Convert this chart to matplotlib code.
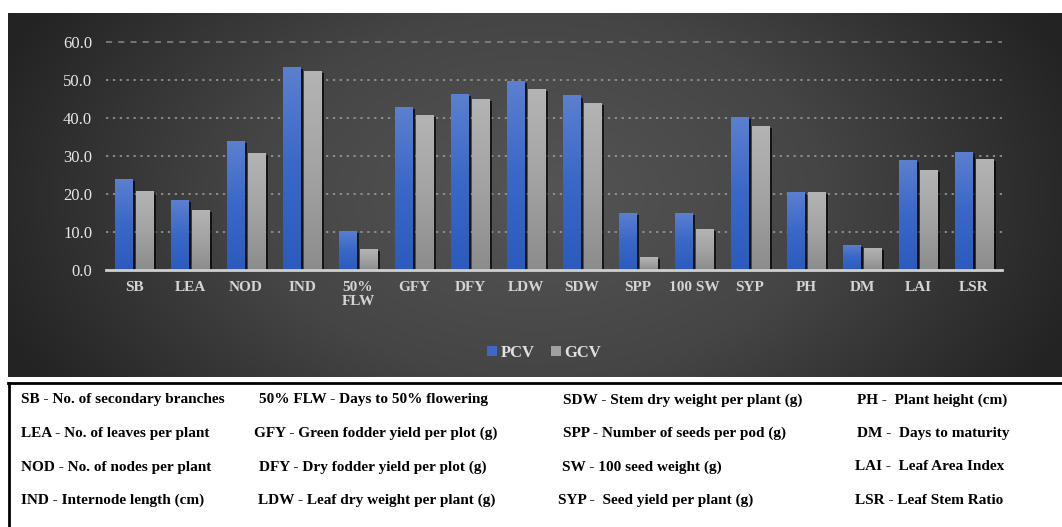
import numpy as np
import matplotlib
matplotlib.use("Agg")
import matplotlib.pyplot as plt
from matplotlib import patheffects as pe
from matplotlib.colors import LinearSegmentedColormap

categories = ["SB", "LEA", "NOD", "IND", "50%\nFLW", "GFY", "DFY", "LDW", "SDW",
              "SPP", "100 SW", "SYP", "PH", "DM", "LAI", "LSR"]
pcv = [24.1, 18.4, 33.9, 53.4, 10.3, 42.9, 46.3, 49.7, 46.0, 15.0, 15.0, 40.3, 20.5, 6.6, 28.9, 31.1]
gcv = [20.8, 15.8, 30.8, 52.4, 5.5, 40.8, 45.0, 47.6, 43.9, 3.4, 10.8, 37.9, 20.5, 5.8, 26.3, 29.2]
yticks = [0, 10, 20, 30, 40, 50, 60]

abbrev_rows = [
    ["SB - No. of secondary branches", "50% FLW - Days to 50% flowering",
     "SDW - Stem dry weight per plant (g)", "PH -  Plant height (cm)"],
    ["LEA - No. of leaves per plant", "GFY - Green fodder yield per plot (g)",
     "SPP - Number of seeds per pod (g)", "DM -  Days to maturity"],
    ["NOD - No. of nodes per plant", "DFY - Dry fodder yield per plot (g)",
     "SW - 100 seed weight (g)", "LAI -  Leaf Area Index"],
    ["IND - Internode length (cm)", "LDW - Leaf dry weight per plant (g)",
     "SYP -  Seed yield per plant (g)", "LSR - Leaf Stem Ratio"],
]
col_x = [[21, 259, 563, 857], [21, 254, 563, 857], [21, 259, 562, 855], [21, 258, 558, 855]]
row_y = [400, 433, 467, 500]

W, H = 1062, 527
fig = plt.figure(figsize=(W / 100, H / 100), dpi=100)
fig.patch.set_facecolor("white")
serif = ["Liberation Serif", "DejaVu Serif"]

# dark background panel with radial gradient
px0, py0, px1, py1 = 8, 13, 1062, 377
bg = fig.add_axes([px0 / W, 1 - py1 / H, (px1 - px0) / W, (py1 - py0) / H])
bg.set_axis_off()
xx, yy = np.meshgrid(np.linspace(-1, 1, 400), np.linspace(-1, 1, 200))
r = np.sqrt((xx * 1.0) ** 2 + (yy * 0.55) ** 2)
r = np.clip(r / 1.1, 0, 1)
bgcmap = LinearSegmentedColormap.from_list("bg", ["#555555", "#454545", "#232323"])
bg.imshow(r, cmap=bgcmap, aspect="auto", extent=[0, 1, 0, 1], vmin=0, vmax=1)
bg.set_xlim(0, 1); bg.set_ylim(0, 1)

# main axes
ax_l, ax_r, ax_b, ax_t = 106, 1002, 270, 42.3
ax = fig.add_axes([ax_l / W, 1 - ax_b / H, (ax_r - ax_l) / W, (ax_b - ax_t) / H])
ax.patch.set_alpha(0)
x = np.arange(len(categories))
bw = 0.32
gap = 0.027
b1 = ax.bar(x - bw / 2 - gap, pcv, bw, color="#3d68c8", zorder=3)
b2 = ax.bar(x + bw / 2 + gap, gcv, bw, color="#a0a0a0", zorder=3)

blue_cm = LinearSegmentedColormap.from_list("bl", ["#2d5bbd", "#3a67c8", "#5b80cf"])
gray_cm = LinearSegmentedColormap.from_list("gr", ["#8c8c8c", "#a3a3a3", "#b4b4b4"])
grad = np.linspace(0, 1, 256).reshape(-1, 1)
for bars, cm in ((b1, blue_cm), (b2, gray_cm)):
    for p in bars:
        bx, by = p.get_x(), p.get_y()
        bwid, bh = p.get_width(), p.get_height()
        p.set_path_effects([pe.SimplePatchShadow(offset=(1.5, -1.5), shadow_rgbFace="black", alpha=0.7), pe.Normal()])
        im = ax.imshow(grad, cmap=cm, origin="lower", aspect="auto",
                       extent=[bx, bx + bwid, by, by + bh], zorder=3.5)
        im.set_clip_path(p)

ax.set_xlim(-0.5, len(categories) - 0.5)
ax.set_ylim(0, 60)
ax.set_yticks(yticks)
ax.set_yticklabels([f"{v:.1f}" for v in yticks], fontsize=12, color="#e6e6e6", family=serif)
ax.set_xticks(x)
ax.set_xticklabels(categories, fontsize=11, fontweight="bold", color="#d4d4d4",
                   family=serif, linespacing=1.05)
ax.tick_params(axis="both", length=0)
ax.tick_params(axis="x", pad=8)
ax.tick_params(axis="y", pad=10)
for s in ["top", "right", "left"]:
    ax.spines[s].set_visible(False)
ax.spines["bottom"].set_color("#cfcfcf")
ax.spines["bottom"].set_linewidth(2)
ax.spines["bottom"].set_zorder(5)
ax.yaxis.grid(True, color="#a0a0a0", linestyle=(0, (1.5, 3)), linewidth=1.1, zorder=1)
ax.set_axisbelow(True)
gls = ax.get_ygridlines()
for gl in gls:
    gl.set_clip_on(False)
gls[-1].set_linestyle((0, (4, 4)))
gls[-1].set_color("#888888")

leg = fig.legend([b1, b2], ["PCV", "GCV"], loc="center", bbox_to_anchor=(544 / W, 1 - 353 / H),
                 ncol=2, frameon=False, handlelength=0.6, handleheight=0.6, handletextpad=0.2,
                 columnspacing=1.0, prop={"family": serif, "weight": "bold", "size": 12})
for t in leg.get_texts():
    t.set_color("#e0e0e0")
for h in leg.legend_handles:
    h.set_path_effects([])

# abbreviation box
fig.add_artist(plt.Line2D([8 / W, 1], [1 - 382.5 / H] * 2, color="black", lw=2, transform=fig.transFigure))
fig.add_artist(plt.Line2D([9 / W, 9 / W], [1 - 382.5 / H, 0], color="black", lw=2, transform=fig.transFigure))
for ri, row in enumerate(abbrev_rows):
    for ci, txt in enumerate(row):
        fig.text(col_x[ri][ci] / W, 1 - row_y[ri] / H, txt, ha="left", va="center",
                 fontsize=11, fontweight="bold", family=serif, color="black")

fig.savefig("out.png", dpi=100, facecolor=fig.get_facecolor())
